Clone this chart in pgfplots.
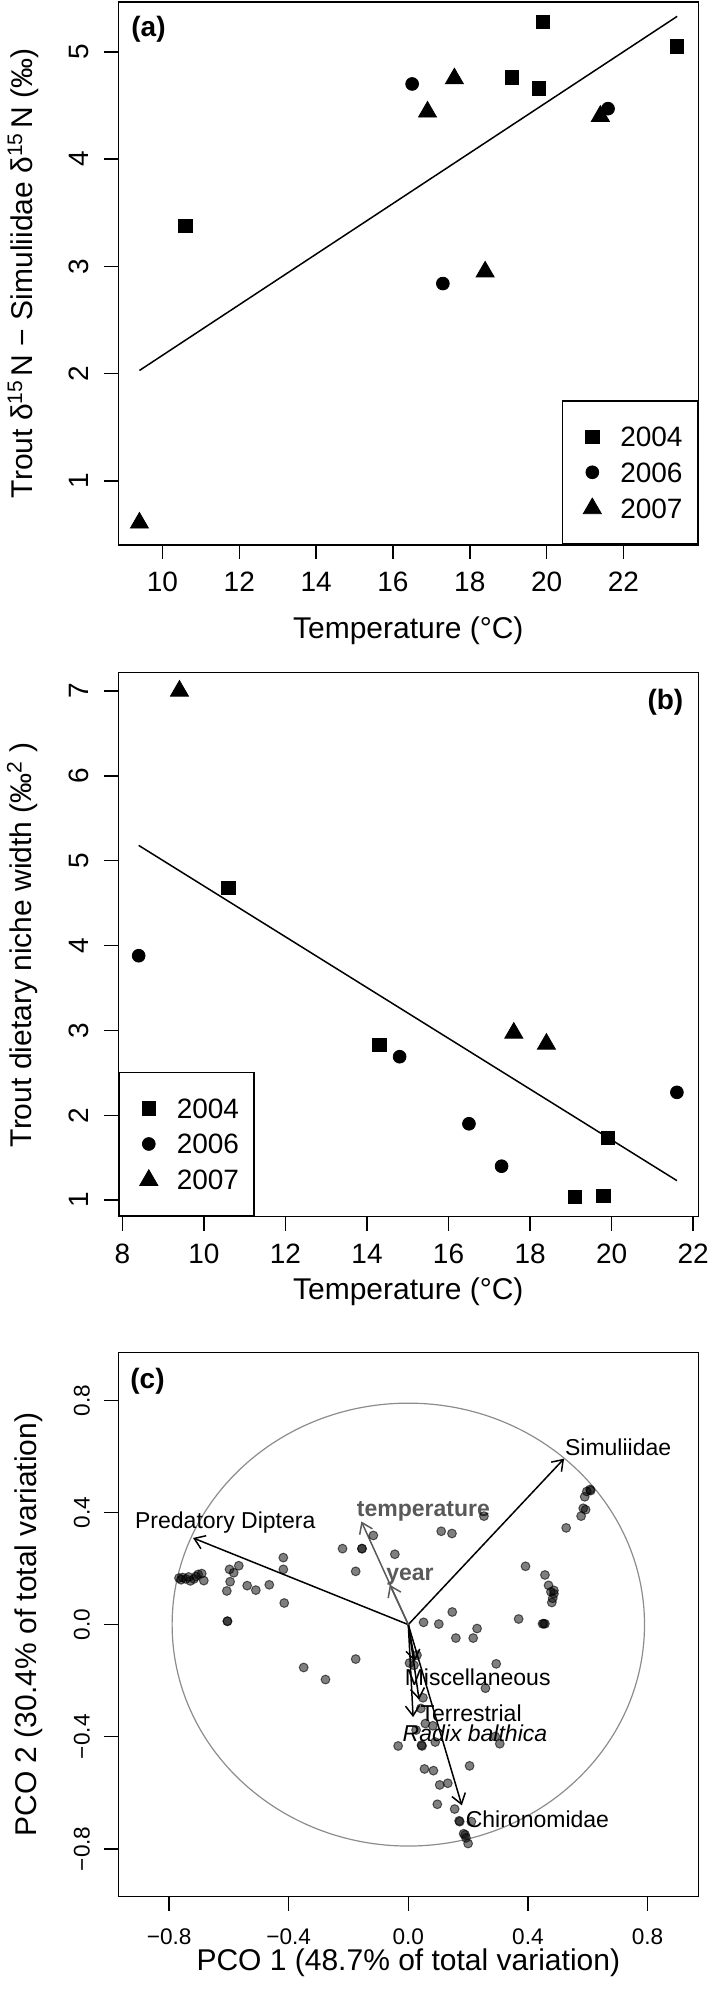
\documentclass[border=0pt]{standalone}
\usepackage{fontspec}
\setmainfont{Liberation Sans}
\usepackage{pgfplots}
\pgfplotsset{compat=1.18}
\usetikzlibrary{arrows.meta}
\definecolor{circgray}{gray}{0.55}
\definecolor{envgray}{gray}{0.35}
\pgfplotsset{
  panel/.style={
    scale only axis, width=290pt,
    axis line style={line width=0.75pt},
    tick align=outside, major tick length=7pt,
    tick style={line width=0.75pt, black},
    xtick pos=left, ytick pos=left,
    label style={font=\fontsize{15}{18}\selectfont, inner sep=0pt},
    xlabel style={anchor=base},
    ylabel style={anchor=base},
  },
  bigticks/.style={
    x tick label style={font=\fontsize{14}{16}\selectfont, anchor=base, inner sep=0pt, yshift=-16.35pt},
    y tick label style={font=\fontsize{14}{16}\selectfont, xshift=-7.8pt, rotate=90, anchor=base, inner sep=0pt},
  },
  yrlegend/.style={
    legend style={draw=black, line width=0.75pt, fill=white, font=\fontsize{14}{16}\selectfont,
      inner xsep=7.5pt, inner ysep=13pt, row sep=8pt, column sep=6.6pt,
      nodes={inner sep=0pt, text depth=0pt}, cells={anchor=west}},
    legend image code/.code={\path (-7pt,0pt) (7pt,0pt); \draw[line width=0.4pt] plot coordinates {(0pt,0pt)};},
  },
  sq/.style={only marks, mark=square*, mark size=3.33pt, black},
  ci/.style={only marks, mark=*, mark size=3.2pt, black},
  tr/.style={only marks, mark=triangle*, mark size=5.2pt, black},
}
\begin{document}
\begin{tikzpicture}
\useasboundingbox (0,0) rectangle (354.5pt,998.5pt);

% ---------------- panel (a)
\begin{axis}[panel, bigticks, yrlegend,
  at={(59.15pt,726pt)}, anchor=south west, height=271.5pt,
  xmin=8.85, xmax=23.95, ymin=0.404, ymax=5.464,
  xtick={10,12,14,16,18,20,22}, xticklabels={10,12,14,16,18,20,22},
  ytick={1,2,3,4,5}, yticklabels={1,2,3,4,5},
  xlabel={Temperature (°C)},
  ylabel={Trout δ\textsuperscript{15}\hspace{0.12em}N − Simuliidae δ\textsuperscript{15}\hspace{0.12em}N (‰)},
  xlabel style={at={(axis description cs:0.5,-0.1727)}},
  ylabel style={at={(axis description cs:-0.1478,0.5)}},
  legend style={at={(1,0)}, anchor=south east},
]
\addplot[sq] coordinates {(10.6,3.38) (19.9,5.28) (19.1,4.76) (19.8,4.66) (23.4,5.05)};
\addlegendentry{2004}
\addplot[ci] coordinates {(16.5,4.70) (17.3,2.84) (21.6,4.47)};
\addlegendentry{2006}
\addplot[tr] coordinates {(9.4,0.61) (16.9,4.44) (17.6,4.75) (18.4,2.95) (21.4,4.40)};
\addlegendentry{2007}
\addplot[forget plot, black, line width=0.75pt] coordinates {(9.4,2.03) (23.4,5.33)};
\node[anchor=base west, inner sep=0pt, font=\bfseries\fontsize{14}{16}\selectfont] at (axis description cs:0.0219,0.936) {(a)};
\end{axis}

% ---------------- panel (b)
\begin{axis}[panel, bigticks, yrlegend,
  at={(59.15pt,390.15pt)}, anchor=south west, height=272pt,
  xmin=7.9, xmax=22.125, ymin=0.805, ymax=7.215,
  xtick={8,10,12,14,16,18,20,22}, xticklabels={8,10,12,14,16,18,20,22},
  ytick={1,2,3,4,5,6,7}, yticklabels={1,2,3,4,5,6,7},
  xlabel={Temperature (°C)},
  ylabel={Trout dietary niche width (‰\textsuperscript{2} )},
  xlabel style={at={(axis description cs:0.5,-0.1517)}},
  ylabel style={at={(axis description cs:-0.1488,0.5)}},
  legend style={at={(0,0)}, anchor=south west},
]
\addplot[sq] coordinates {(10.6,4.68) (14.3,2.83) (19.1,1.04) (19.8,1.05) (19.9,1.73)};
\addlegendentry{2004}
\addplot[ci] coordinates {(8.4,3.88) (14.8,2.69) (16.5,1.90) (17.3,1.40) (21.6,2.27)};
\addlegendentry{2006}
\addplot[tr] coordinates {(9.4,7.0) (17.6,2.97) (18.4,2.84)};
\addlegendentry{2007}
\addplot[forget plot, black, line width=0.75pt] coordinates {(8.4,5.18) (21.6,1.23)};
\node[anchor=base east, inner sep=0pt, font=\bfseries\fontsize{14}{16}\selectfont] at (axis description cs:0.9748,0.9325) {(b)};
\end{axis}

% ---------------- panel (c)
\begin{axis}[panel,
  at={(59.15pt,50.25pt)}, anchor=south west, height=271.9pt,
  xmin=-0.97, xmax=0.97, ymin=-0.97, ymax=0.97,
  xtick={-0.8,-0.4,0,0.4,0.8}, xticklabels={−0.8,−0.4,0.0,0.4,0.8},
  ytick={-0.8,-0.4,0,0.4,0.8}, yticklabels={−0.8,−0.4,0.0,0.4,0.8},
  x tick label style={font=\fontsize{11.3}{13}\selectfont, anchor=base, inner sep=0pt, yshift=-17.1pt},
  y tick label style={font=\fontsize{11.3}{13}\selectfont, xshift=-7.3pt, rotate=90, anchor=base, inner sep=0pt},
  xlabel={PCO 1 (48.7\% of total variation)},
  ylabel={PCO 2 (30.4\% of total variation)},
  xlabel style={at={(axis description cs:0.5,-0.1366)}},
  ylabel style={at={(axis description cs:-0.141,0.5)}},
]
\draw[circgray, line width=0.6pt] (axis cs:0,0) ellipse [x radius=0.79, y radius=0.79];
\addplot[only marks, mark=*, mark size=2.2pt,
  mark options={fill=black, fill opacity=0.5, draw=black, draw opacity=0.6, line width=0.5pt}]
  table {
x y
-0.767 0.166
-0.760 0.160
-0.755 0.168
-0.744 0.163
-0.735 0.170
-0.729 0.156
-0.717 0.163
-0.710 0.172
-0.703 0.179
-0.691 0.182
-0.684 0.157
-0.607 0.120
-0.598 0.197
-0.596 0.153
-0.584 0.185
-0.567 0.210
-0.539 0.139
-0.510 0.123
-0.465 0.142
-0.418 0.239
-0.418 0.197
-0.415 0.077
-0.605 0.012
-0.605 0.012
-0.350 -0.153
-0.277 -0.196
-0.220 0.271
-0.176 0.190
-0.176 -0.123
-0.155 0.271
-0.155 0.271
-0.117 0.318
-0.045 0.251
0.051 0.008
0.102 0.002
0.110 0.333
0.146 0.325
0.147 0.045
0.159 -0.048
0.230 -0.014
0.217 -0.048
0.253 0.387
0.294 -0.140
0.258 -0.227
0.369 0.020
0.392 0.208
0.457 0.177
0.469 0.140
0.477 0.117
0.483 0.094
0.480 0.079
0.487 0.122
0.487 0.110
0.449 0.003
0.457 0.003
0.453 0.003
0.528 0.345
0.578 0.387
0.585 0.415
0.590 0.456
0.597 0.475
0.608 0.482
0.610 0.478
0.593 0.410
0.029 -0.109
0.004 -0.137
0.019 -0.145
0.049 -0.261
0.042 -0.299
0.057 -0.353
0.082 -0.361
0.026 -0.376
0.044 -0.430
0.046 -0.433
-0.034 -0.433
0.090 -0.419
0.306 -0.425
0.291 -0.399
0.205 -0.504
0.054 -0.515
0.084 -0.521
0.105 -0.572
0.132 -0.566
0.097 -0.641
0.155 -0.658
0.170 -0.700
0.172 -0.703
0.211 -0.703
0.185 -0.746
0.193 -0.761
0.190 -0.750
0.200 -0.781
};
% arrows
\addplot[black, line width=0.75pt, -{Straight Barb[length=5pt,width=7pt]}] coordinates {(0,0) (0.521,0.592)};
\addplot[black, line width=0.75pt, -{Straight Barb[length=5pt,width=7pt]}] coordinates {(0,0) (-0.720,0.309)};
\addplot[black, line width=0.75pt, -{Straight Barb[length=5pt,width=7pt]}] coordinates {(0,0) (0.179,-0.645)};
\addplot[black, line width=0.75pt, -{Straight Barb[length=5pt,width=7pt]}] coordinates {(0,0) (0.022,-0.131)};
\addplot[black, line width=0.75pt, -{Straight Barb[length=5pt,width=7pt]}] coordinates {(0,0) (0.036,-0.268)};
\addplot[black, line width=0.75pt, -{Straight Barb[length=5pt,width=7pt]}] coordinates {(0,0) (0.016,-0.330)};
\addplot[envgray, line width=0.75pt, -{Straight Barb[length=5pt,width=7pt]}] coordinates {(0,0) (-0.157,0.368)};
\addplot[envgray, line width=0.75pt, -{Straight Barb[length=5pt,width=7pt]}] coordinates {(0,0) (-0.062,0.142)};
% labels
\begin{scope}[every node/.style={inner sep=0pt, anchor=base west, font=\fontsize{11.5}{13}\selectfont}]
\node at (axis cs:0.523,0.604) {Simuliidae};
\node at (axis cs:-0.915,0.343) {Predatory Diptera};
\node[envgray, font=\bfseries\fontsize{11.5}{13}\selectfont] at (axis cs:-0.173,0.387) {temperature};
\node[envgray, font=\bfseries\fontsize{11.5}{13}\selectfont] at (axis cs:-0.075,0.159) {year};
\node at (axis cs:-0.013,-0.217) {Miscellaneous};
\node at (axis cs:0.040,-0.346) {Terrestrial};
\node[font=\itshape\fontsize{11.5}{13}\selectfont] at (axis cs:-0.020,-0.416) {Radix balthica};
\node at (axis cs:0.191,-0.725) {Chironomidae};
\end{scope}
\node[anchor=base west, inner sep=0pt, font=\bfseries\fontsize{14}{16}\selectfont] at (axis description cs:0.0202,0.935) {(c)};
\end{axis}
\end{tikzpicture}
\end{document}
